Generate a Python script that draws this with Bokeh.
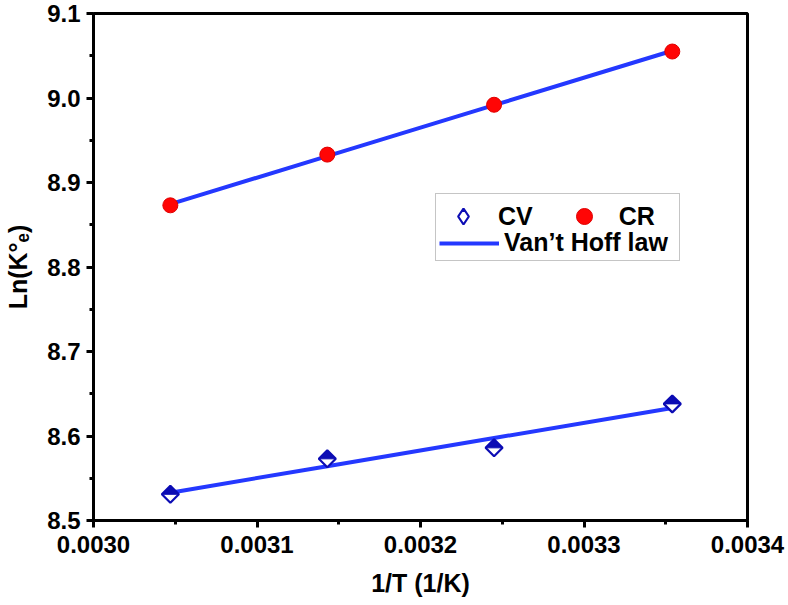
import numpy as np
from bokeh.plotting import figure
from bokeh.models import (ColumnDataSource, Legend, LegendItem, FixedTicker,
                          PrintfTickFormatter, Range1d)
from bokeh.embed import file_html
from bokeh.resources import INLINE

# ---- data ----
inv_T = [0.003047, 0.003143, 0.003245, 0.003354]          # 1/T (1/K)
ln_ke_cv = [8.531, 8.573, 8.586, 8.638]                   # CV
ln_ke_cr = [8.873, 8.933, 8.992, 9.055]                   # CR
x_major = [0.0030, 0.0031, 0.0032, 0.0033, 0.0034]
x_minor = [0.00305, 0.00315, 0.00325, 0.00335]
y_major = [8.5, 8.6, 8.7, 8.8, 8.9, 9.0, 9.1]
y_minor = [8.55, 8.65, 8.75, 8.85, 8.95, 9.05]

# Van't Hoff linear fits
x_arr = np.array(inv_T)
fit_cv = np.polyval(np.polyfit(x_arr, ln_ke_cv, 1), x_arr)
fit_cr = np.polyval(np.polyfit(x_arr, ln_ke_cr, 1), x_arr)

# ---- layout constants ----
W, H = 788, 605
BL, BR, BT, BB = 93, 41, 13, 85
FW, FH = W - BL - BR, H - BT - BB
X0, X1, Y0, Y1 = 0.0030, 0.0034, 8.5, 9.1

FONT = "Liberation Sans"
CV_COL = "#0c0cb4"
LINE_COL = "#2438ff"

p = figure(width=W, height=H, x_range=Range1d(X0, X1), y_range=Range1d(Y0, Y1),
           output_backend="svg", toolbar_location=None,
           min_border_left=BL, min_border_right=BR, min_border_top=BT, min_border_bottom=BB)
p.xgrid.visible = False
p.ygrid.visible = False
p.outline_line_color = "black"
p.outline_line_width = 3
p.background_fill_color = "white"
p.border_fill_color = "white"

p.xaxis.ticker = FixedTicker(ticks=x_major, minor_ticks=x_minor)
p.yaxis.ticker = FixedTicker(ticks=y_major, minor_ticks=y_minor)
p.xaxis.formatter = PrintfTickFormatter(format="%.4f")
p.yaxis.formatter = PrintfTickFormatter(format="%.1f")
p.xaxis.axis_label = "1/T (1/K)"
p.yaxis.axis_label = "Ln(K°ₑ)"
for ax in (p.xaxis[0], p.yaxis[0]):
    ax.axis_line_width = 3
    ax.axis_line_color = "black"
    ax.major_tick_line_width = 3
    ax.minor_tick_line_width = 3
    ax.major_tick_out = 7
    ax.major_tick_in = 0
    ax.minor_tick_out = 4
    ax.minor_tick_in = 0
    ax.major_label_text_font = FONT
    ax.major_label_text_font_style = "bold"
    ax.major_label_text_font_size = "24px"
    ax.major_label_text_color = "black"
    ax.axis_label_text_font = FONT
    ax.axis_label_text_font_style = "bold"
    ax.axis_label_text_font_size = "25px"
    ax.axis_label_text_color = "black"
p.xaxis.major_label_standoff = 8
p.yaxis.major_label_standoff = 6
p.xaxis.axis_label_standoff = 13
p.yaxis.axis_label_standoff = 12

# fit lines
r_fit_cv = p.line(inv_T, fit_cv, line_color=LINE_COL, line_width=4)
r_fit_cr = p.line(inv_T, fit_cr, line_color=LINE_COL, line_width=4)

# CV half-filled diamonds: outline + filled top half
SQ = 12
half_px = SQ * np.sqrt(2) / 2
hx = half_px * (X1 - X0) / FW
hy = half_px * (Y1 - Y0) / FH
p.scatter(inv_T, ln_ke_cv, marker="square", size=SQ, angle=np.pi / 4,
          fill_color="white", line_color=CV_COL, line_width=2.2)
xs_top = [[x - hx, x + hx, x] for x in inv_T]
ys_top = [[y, y, y + hy] for y in ln_ke_cv]
p.patches(xs_top, ys_top, fill_color=CV_COL, line_color=CV_COL, line_width=1)

# CR spheres
r_cr = p.scatter(inv_T, ln_ke_cr, marker="circle", size=15,
                 fill_color="#ff0505", line_color="#e00000", line_width=1)

# legend-only glyphs (no visible data)
nan_src = ColumnDataSource(data=dict(x=[np.nan], y=[np.nan]))
leg_cv_fill = p.scatter("x", "y", source=nan_src, marker="diamond",
                        fill_color=CV_COL, line_color=None)
leg_cv_white = p.scatter("x", "y", source=nan_src, marker="inverted_triangle",
                         fill_color="white", line_color=None)
leg_cv_out = p.scatter("x", "y", source=nan_src, marker="diamond",
                       fill_alpha=0, line_color=CV_COL, line_width=2.2)
blank = p.scatter("x", "y", source=nan_src, marker="circle", size=1,
                  fill_alpha=0, line_alpha=0)

common = dict(label_text_font=FONT, label_text_font_style="bold",
              label_text_font_size="25px", label_text_color="black",
              glyph_width=60, label_standoff=5, padding=3)

legA = Legend(items=[LegendItem(label=" ", renderers=[blank]),
                     LegendItem(label="Van’t Hoff law", renderers=[r_fit_cv])],
              location=(342, 259), orientation="vertical",
              glyph_height=28, label_height=28, label_width=172, spacing=3,
              border_line_color="#8c8c8c", border_line_width=1.5,
              background_fill_color="white", background_fill_alpha=1, **common)
legB = Legend(items=[LegendItem(label="CV", renderers=[leg_cv_fill, leg_cv_white, leg_cv_out]),
                     LegendItem(label="CR", renderers=[r_cr])],
              location=(340, 284), orientation="horizontal",
              glyph_height=40, label_height=28, spacing=21,
              border_line_color=None, background_fill_alpha=0, **common)
p.add_layout(legA, "center")
p.add_layout(legB, "center")

open("out.html", "w").write(file_html(p, INLINE))
